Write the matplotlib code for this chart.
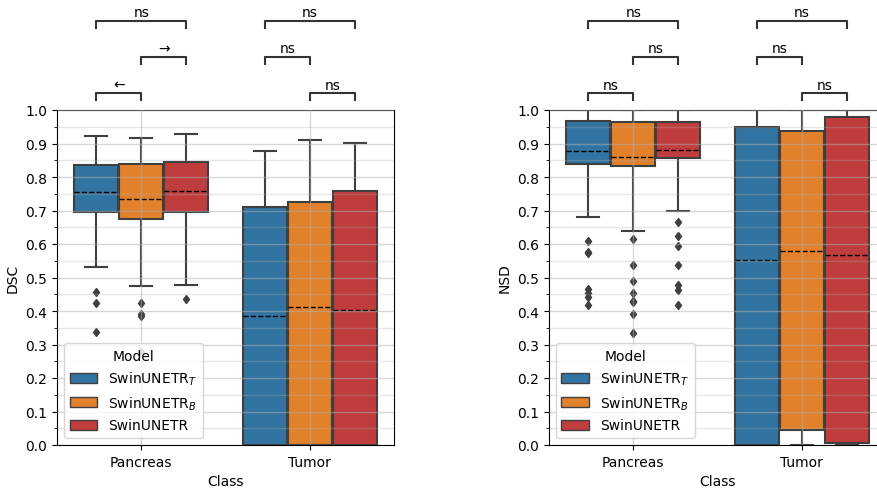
import numpy as np
import matplotlib
matplotlib.use('Agg')
import matplotlib.pyplot as plt
from matplotlib.patches import Patch

matplotlib.rc('font', size=10)

classes = ['Pancreas', 'Tumor']
models = ['SwinUNETR$_T$', 'SwinUNETR$_B$', 'SwinUNETR']
colors = ['#3274a1', '#e1812c', '#c03d3e']

# box stats per model, listed as [Pancreas, Tumor]
dsc_q1 = [[0.695, 0.0], [0.674, 0.0], [0.695, 0.0]]
dsc_med = [[0.755, 0.385], [0.734, 0.411], [0.757, 0.402]]
dsc_q3 = [[0.836, 0.709], [0.838, 0.726], [0.846, 0.757]]
dsc_lo = [[0.532, 0.0], [0.475, 0.0], [0.479, 0.0]]
dsc_hi = [[0.923, 0.878], [0.917, 0.910], [0.929, 0.901]]
dsc_fliers = [[[0.457, 0.425, 0.337], []],
              [[0.425, 0.391, 0.385, 0.277], []],
              [[0.437], []]]

nsd_q1 = [[0.839, 0.0], [0.834, 0.046], [0.856, 0.005]]
nsd_med = [[0.877, 0.553], [0.859, 0.579], [0.880, 0.568]]
nsd_q3 = [[0.968, 0.948], [0.965, 0.938], [0.965, 0.980]]
nsd_lo = [[0.682, 0.0], [0.638, 0.0], [0.698, 0.0]]
nsd_hi = [[1.0, 1.0], [1.0, 1.0], [1.0, 1.0]]
nsd_fliers = [[[0.61, 0.577, 0.573, 0.467, 0.455, 0.442, 0.419], []],
              [[0.615, 0.538, 0.489, 0.455, 0.431, 0.427, 0.391, 0.334], []],
              [[0.667, 0.623, 0.595, 0.538, 0.477, 0.462, 0.417], []]]

# significance annotations: (class index, model a, model b, level, text)
dsc_annot = [(0, 0, 1, 0, '\u2190'), (0, 1, 2, 1, '\u2192'), (0, 0, 2, 2, 'ns'),
             (1, 1, 2, 0, 'ns'), (1, 0, 1, 1, 'ns'), (1, 0, 2, 2, 'ns')]
nsd_annot = [(0, 0, 1, 0, 'ns'), (0, 1, 2, 1, 'ns'), (0, 0, 2, 2, 'ns'),
             (1, 1, 2, 0, 'ns'), (1, 0, 1, 1, 'ns'), (1, 0, 2, 2, 'ns')]

offsets = [-0.8 / 3, 0.0, 0.8 / 3]
box_w = 0.262
level_y = [1.05, 1.158, 1.266]
tick_h = 0.02


def draw_panel(ax, q1, med, q3, lo, hi, fliers, annot, ylabel):
    for m in range(len(models)):
        stats = []
        pos = []
        for c in range(len(classes)):
            stats.append({'q1': q1[m][c], 'med': med[m][c], 'q3': q3[m][c],
                          'whislo': lo[m][c], 'whishi': hi[m][c],
                          'fliers': fliers[m][c]})
            pos.append(c + offsets[m])
        ax.bxp(stats, positions=pos, widths=box_w, patch_artist=True,
               showfliers=True, manage_ticks=False,
               boxprops=dict(facecolor=colors[m], edgecolor='#3f3f3f', linewidth=1.5),
               whiskerprops=dict(color='#3f3f3f', linewidth=1.5),
               capprops=dict(color='#3f3f3f', linewidth=1.5),
               medianprops=dict(color='black', linewidth=1, linestyle='--'),
               flierprops=dict(marker='d', markerfacecolor='#3f3f3f',
                               markeredgecolor='#3f3f3f', markersize=4.5))

    ax.set_xlim(-0.5, 1.5)
    ax.set_ylim(0, 1.0)
    ax.set_xticks(range(len(classes)))
    ax.set_xticklabels(classes)
    ax.set_yticks(np.arange(0, 1.01, 0.1))
    ax.set_yticks(np.arange(0, 1.01, 0.05), minor=True)
    ax.set_axisbelow(False)
    ax.grid(which='major', color='#b0b0b0', alpha=0.5, linewidth=1)
    ax.grid(which='minor', axis='y', color='#b0b0b0', alpha=0.3, linewidth=1)
    ax.set_xlabel('Class')
    ax.set_ylabel(ylabel)

    for c, a, b, lvl, txt in annot:
        x1 = c + offsets[a]
        x2 = c + offsets[b]
        y = level_y[lvl]
        ax.plot([x1, x1, x2, x2], [y - tick_h, y, y, y - tick_h],
                color='#333333', linewidth=1.5, clip_on=False)
        ax.text((x1 + x2) / 2, y + 0.005, txt, ha='center', va='bottom',
                fontsize=10, clip_on=False)

    handles = [Patch(facecolor=colors[i], edgecolor='#3f3f3f', label=models[i])
               for i in range(len(models))]
    ax.legend(handles=handles, title='Model', loc='lower left',
              borderaxespad=0.5, fontsize=10, title_fontsize=10)


fig = plt.figure(figsize=(8.78, 4.89), dpi=100)
ax1 = fig.add_axes([57 / 878, 43 / 489, 337 / 878, 335 / 489])
ax2 = fig.add_axes([549 / 878, 43 / 489, 337 / 878, 335 / 489])

draw_panel(ax1, dsc_q1, dsc_med, dsc_q3, dsc_lo, dsc_hi, dsc_fliers, dsc_annot, 'DSC')
draw_panel(ax2, nsd_q1, nsd_med, nsd_q3, nsd_lo, nsd_hi, nsd_fliers, nsd_annot, 'NSD')

plt.savefig('out.png', dpi=100)
